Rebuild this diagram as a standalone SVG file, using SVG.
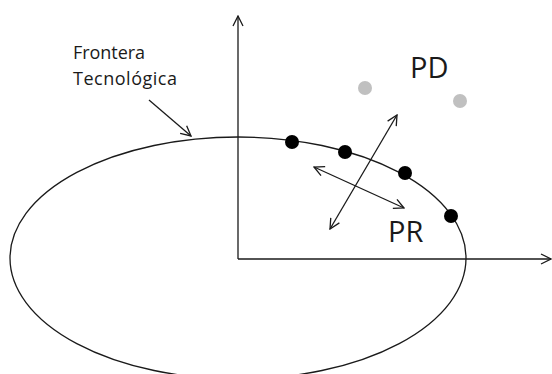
<svg xmlns="http://www.w3.org/2000/svg" width="552" height="374" viewBox="0 0 552 374">
<style>
.ln{fill:none;stroke:#1a1a1a;stroke-width:1.3}
.lbl{font-family:"Open Sans","Liberation Sans",sans-serif;fill:#1a1a1a}
.pt{fill:#000}
.gp{fill:#c0c0c0}
</style>
<defs>
<marker id="ah" viewBox="0 0 12 12" refX="11" refY="6" markerWidth="12" markerHeight="12" markerUnits="userSpaceOnUse" orient="auto-start-reverse">
<path d="M1,1 L11,6 L1,11" fill="none" stroke="#1a1a1a" stroke-width="1.3"/>
</marker>
</defs>
<rect width="552" height="374" fill="#fff"/>
<g id="frontier">
<ellipse class="ln" cx="238" cy="258" rx="228" ry="121"/>
</g>
<g id="connectors">
<line class="ln" x1="238" y1="259" x2="238" y2="16" marker-end="url(#ah)"/>
<line class="ln" x1="238" y1="259" x2="551" y2="259" marker-end="url(#ah)"/>
<line class="ln" x1="149" y1="100" x2="191" y2="136" marker-end="url(#ah)"/>
<line class="ln" x1="330" y1="229" x2="397" y2="115" marker-start="url(#ah)" marker-end="url(#ah)"/>
<line class="ln" x1="314" y1="167" x2="404" y2="208" marker-start="url(#ah)" marker-end="url(#ah)"/>
</g>
<g id="points-pr">
<circle class="pt" cx="292" cy="142" r="7"/>
<circle class="pt" cx="345" cy="152" r="7"/>
<circle class="pt" cx="405" cy="173" r="7"/>
<circle class="pt" cx="451" cy="216" r="7"/>
</g>
<g id="points-pd">
<circle class="gp" cx="365" cy="88" r="7"/>
<circle class="gp" cx="460" cy="101" r="7"/>
</g>
<g id="label-frontera">
<text class="lbl" x="73" y="59" font-size="18" textLength="72">Frontera</text>
<text class="lbl" x="73" y="85" font-size="18" textLength="104">Tecnológica</text>
</g>
<g id="label-pd">
<text class="lbl" x="410" y="78" font-size="29">PD</text>
</g>
<g id="label-pr">
<text class="lbl" x="388" y="242" font-size="29">PR</text>
</g>
</svg>
